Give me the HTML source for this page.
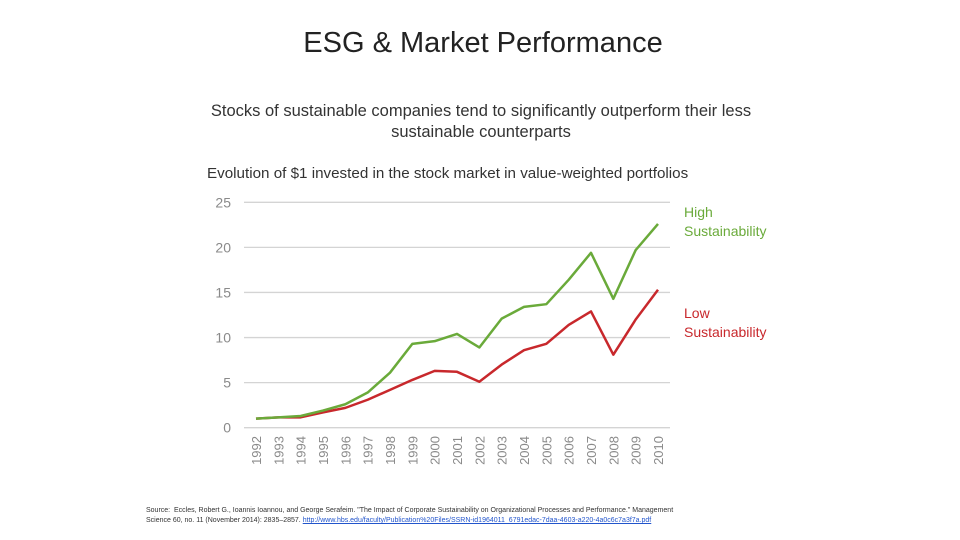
<!DOCTYPE html>
<html><head><meta charset="utf-8"><style>
body{margin:0;background:#fff;font-family:"Liberation Sans",sans-serif;}
#w{position:relative;width:960px;height:540px;overflow:hidden;}
.t{position:absolute;white-space:nowrap;color:#222;}
</style></head><body>
<div id="w">
<div class="t" style="left:0;width:966px;text-align:center;top:27px;font-size:29px;color:#222">ESG &amp; Market Performance</div>
<div class="t" style="left:0;width:962px;text-align:center;top:101px;font-size:16.5px;line-height:21px;color:#333">Stocks of sustainable companies tend to significantly outperform their less<br>sustainable counterparts</div>
<div class="t" style="left:207px;top:165px;font-size:15.2px;color:#333">Evolution of $1 invested in the stock market in value-weighted portfolios</div>
<svg id="c" width="960" height="540" style="position:absolute;left:0;top:0"></svg>
<div class="t" style="left:684px;top:203px;font-size:14px;line-height:19px;color:#6aaa3a">High<br>Sustainability</div>
<div class="t" style="left:684px;top:304px;font-size:14px;line-height:19px;color:#c8282c">Low<br>Sustainability</div>
<div class="t" style="left:146px;top:506px;font-size:7px;line-height:10px;color:#333">Source:&nbsp; Eccles, Robert G., Ioannis Ioannou, and George Serafeim. "The Impact of Corporate Sustainability on Organizational Processes and Performance." Management<br>Science 60, no. 11 (November 2014): 2835–2857. <span style="color:#2255cc;text-decoration:underline">http://www.hbs.edu/faculty/Publication%20Files/SSRN-id1964011_6791edac-7daa-4603-a220-4a0c6c7a3f7a.pdf</span></div>
</div>
<script>
const years=["1992","1993","1994","1995","1996","1997","1998","1999","2000","2001","2002","2003","2004","2005","2006","2007","2008","2009","2010"];
const highSust=[1,1.15,1.3,1.9,2.6,3.9,6.1,9.3,9.6,10.4,8.9,12.1,13.4,13.7,16.4,19.4,14.3,19.7,22.6];
const lowSust=[1,1.15,1.15,1.7,2.2,3.1,4.2,5.3,6.3,6.2,5.1,7.0,8.6,9.3,11.4,12.9,8.1,12.0,15.3];
const yTicks=[0,5,10,15,20,25];
const NS="http://www.w3.org/2000/svg";
const svg=document.getElementById('c');
const x=i=>256+i*(658-256)/(years.length-1);
const y=v=>427.7-v*(427.7-202.3)/25;
function mk(t,a){const e=document.createElementNS(NS,t);for(const k in a)e.setAttribute(k,a[k]);svg.appendChild(e);return e;}
yTicks.forEach(v=>{
 const l=mk('line',{x1:244,x2:670,y1:y(v),y2:y(v),stroke:'#d4d4d4','stroke-width':1.3});
 
 
 const t=mk('text',{x:231,y:y(v)+5,'text-anchor':'end','font-size':14,fill:'#8a8a8a','font-family':'Liberation Sans, sans-serif'});
 t.textContent=v;
 
 
});
years.forEach((yr,i)=>{
 const t=mk('text',{x:0,y:0,'text-anchor':'end','font-size':13,fill:'#8a8a8a','font-family':'Liberation Sans, sans-serif',transform:`translate(${x(i)+5},436) rotate(-90)`});
 t.textContent=yr;
 
 
});
function line(arr,col,name){
 const p=mk('polyline',{points:arr.map((v,i)=>x(i)+','+y(v)).join(' '),fill:'none',stroke:col,'stroke-width':2.5,'stroke-linejoin':'round'});
 
 
}
line(lowSust,'#c8282c','low-sustainability-line');
line(highSust,'#6aaa3a','high-sustainability-line');
</script>
</body></html>
